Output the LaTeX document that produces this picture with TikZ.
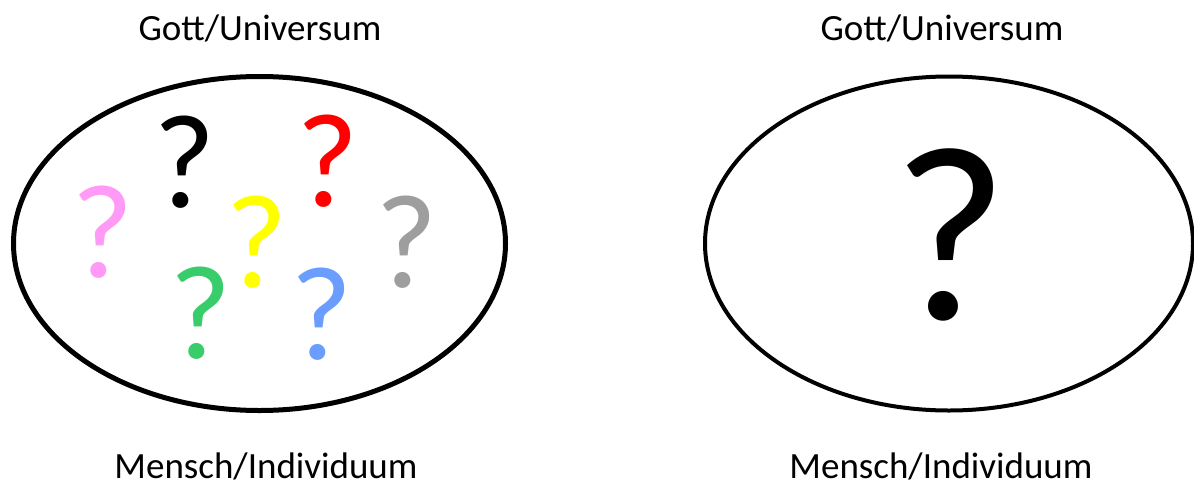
\documentclass[tikz,border=0pt]{standalone}
\usepackage{fontspec}
\setmainfont{Carlito}
\usetikzlibrary{shapes.geometric}
\definecolor{qpink}{HTML}{FF9BF7}
\definecolor{qyellow}{HTML}{FFFF00}
\definecolor{qred}{HTML}{FF0000}
\definecolor{qgray}{HTML}{9E9E9E}
\definecolor{qgreen}{HTML}{38CC6A}
\definecolor{qblue}{HTML}{6B9DFF}
\tikzset{
  lbl/.style={inner sep=0pt, anchor=base, font=\fontsize{37}{40}\selectfont},
  qm/.style={inner sep=0pt, anchor=base, font=\fontsize{134}{140}\selectfont},
  bigqm/.style={inner sep=0pt, anchor=base, font=\fontsize{250}{260}\selectfont},
  oval/.style={draw=black, fill=white}
}
\begin{document}
\begin{tikzpicture}[x=1pt,y=-1pt]
\useasboundingbox (0,0) rectangle (1194,482);
% left ellipse
\draw[oval, line width=5pt] (259.5,243.5) ellipse [x radius=246, y radius=167];
% right ellipse
\draw[oval, line width=4pt] (949,243.5) ellipse [x radius=244, y radius=167];
% labels
\node[lbl] (g1) at (260,40) {Gott/Universum};
\node[lbl] (m1) at (266,478) {Mensch/Individuum};
\node[lbl] (g2) at (942,40) {Gott/Universum};
\node[lbl] (m2) at (941,478) {Mensch/Individuum};
% question marks
\node[qm, text=black] (q1) at (185,207) {?};
\node[qm, text=qred] (q2) at (328,206) {?};
\node[qm, text=qpink] (q3) at (103,277) {?};
\node[qm, text=qyellow] (q4) at (257,287) {?};
\node[qm, text=qgray] (q5) at (407,287) {?};
\node[qm, text=qgreen] (q6) at (201,358) {?};
\node[qm, text=qblue] (q7) at (322,359) {?};
\node[bigqm, text=black] (q8) at (950,319) {?};
\end{tikzpicture}
\end{document}
